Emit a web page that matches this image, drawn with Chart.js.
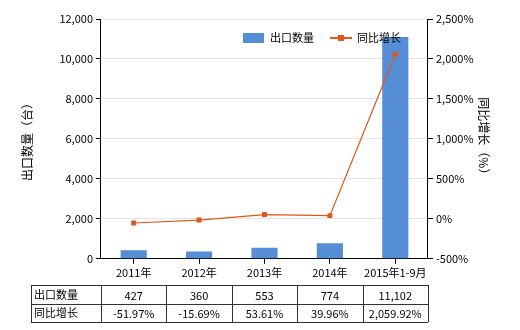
<!DOCTYPE html>
<html>
<head>
<meta charset="utf-8">
<script src="https://cdn.jsdelivr.net/npm/chart.js@4"></script>
<style>
  html, body { margin: 0; padding: 0; background: #fff; }
  #wrap { width: 520px; height: 330px; position: relative; }
</style>
</head>
<body>
<div id="wrap"><canvas id="chart"></canvas></div>
<script>
// - Dados

const categorias = ['2011年', '2012年', '2013年', '2014年', '2015年1-9月']
const quantidade = [427, 360, 553, 774, 11102]
const crescimento = [-51.97, -15.69, 53.61, 39.96, 2059.92]
const quantidadeTexto = ['427', '360', '553', '774', '11,102']
const crescimentoTexto = ['-51.97%', '-15.69%', '53.61%', '39.96%', '2,059.92%']
const serieNomes = ['出口数量', '同比增长']

const FONTE = '"Noto Sans CJK SC", "Noto Sans", sans-serif'
const AZUL = '#558ED5'
const LARANJA = '#E0561B'

// legenda + tabela
const extras = {
  id: 'extras',
  afterDraw(chart) {
    const ctx = chart.ctx
    const x = chart.scales.x
    ctx.save()

    // legenda
    ctx.fillStyle = AZUL
    ctx.fillRect(243, 33, 21, 10)
    ctx.font = '11px ' + FONTE
    ctx.fillStyle = '#000'
    ctx.textBaseline = 'middle'
    ctx.textAlign = 'left'
    ctx.fillText(serieNomes[0], 270, 38)
    ctx.strokeStyle = LARANJA
    ctx.lineWidth = 2
    ctx.beginPath()
    ctx.moveTo(330, 38)
    ctx.lineTo(352, 38)
    ctx.stroke()
    ctx.fillStyle = LARANJA
    ctx.fillRect(338, 35, 6, 6)
    ctx.fillStyle = '#000'
    ctx.fillText(serieNomes[1], 357, 38)

    // tabela
    const left = 31
    const top = 285
    const mid = 304
    const bottom = 322
    const half = (x.getPixelForValue(1) - x.getPixelForValue(0)) / 2
    const right = x.getPixelForValue(categorias.length - 1) + half
    ctx.strokeStyle = '#333'
    ctx.lineWidth = 1
    ctx.beginPath()
    ctx.moveTo(left, top + 0.5); ctx.lineTo(right, top + 0.5)
    ctx.moveTo(left, mid + 0.5); ctx.lineTo(right, mid + 0.5)
    ctx.moveTo(left, bottom + 0.5); ctx.lineTo(right, bottom + 0.5)
    ctx.moveTo(left + 0.5, top); ctx.lineTo(left + 0.5, bottom)
    for (let i = 0; i < categorias.length; i++) {
      const b = Math.round(x.getPixelForValue(i) - half) + 0.5
      ctx.moveTo(b, top); ctx.lineTo(b, bottom)
    }
    ctx.moveTo(Math.round(right) + 0.5, top); ctx.lineTo(Math.round(right) + 0.5, bottom)
    ctx.stroke()

    ctx.fillStyle = '#000'
    ctx.textAlign = 'left'
    ctx.fillText(serieNomes[0], left + 3, (top + mid) / 2)
    ctx.fillText(serieNomes[1], left + 3, (mid + bottom) / 2)
    ctx.textAlign = 'center'
    for (let i = 0; i < categorias.length; i++) {
      const cx = x.getPixelForValue(i)
      ctx.fillText(quantidadeTexto[i], cx, (top + mid) / 2 + 1)
      ctx.fillText(crescimentoTexto[i], cx, (mid + bottom) / 2 + 1)
    }
    ctx.restore()
  }
}

const data = {
  labels: categorias,
  datasets: [{
    type: 'line',
    label: serieNomes[1],
    data: crescimento,
    yAxisID: 'y1',
    borderColor: LARANJA,
    backgroundColor: LARANJA,
    borderWidth: 1.2,
    pointStyle: 'rect',
    pointRadius: 3.5,
    pointBorderWidth: 0,
    tension: 0,
    order: 0
  }, {
    type: 'bar',
    label: serieNomes[0],
    data: quantidade,
    yAxisID: 'y',
    backgroundColor: AZUL,
    categoryPercentage: 1,
    barPercentage: 0.4,
    order: 1
  }]
}

const config = {
  data: data,
  options: {
    responsive: true,
    maintainAspectRatio: false,
    animation: false,
    layout: { padding: { left: 20, right: 4, top: 19, bottom: 49 } },
    plugins: {
      legend: { display: false },
      tooltip: { enabled: false }
    },
    scales: {
      x: {
        offset: true,
        grid: {
          display: true,
          offset: false,
          drawOnChartArea: false,
          color: '#000',
          tickLength: 5
        },
        border: { color: '#000', width: 1 },
        ticks: { color: '#000', font: { family: FONTE, size: 11 }, maxRotation: 0, autoSkip: false, padding: 2 }
      },
      y: {
        position: 'left',
        min: 0,
        max: 12000,
        ticks: {
          stepSize: 2000,
          color: '#000',
          font: { family: FONTE, size: 11 },
          padding: 3,
          callback: v => v.toLocaleString('en-US')
        },
        grid: { color: '#e3e3e3', tickColor: '#000', tickLength: 5 },
        border: { color: '#000', width: 1 },
        title: { display: true, text: '出口数量（台）', color: '#000', font: { family: FONTE, size: 12 }, padding: { top: 0, bottom: 22 } }
      },
      y1: {
        position: 'right',
        min: -500,
        max: 2500,
        ticks: {
          stepSize: 500,
          color: '#000',
          font: { family: FONTE, size: 11 },
          padding: 3,
          callback: v => v.toLocaleString('en-US') + '%'
        },
        grid: { drawOnChartArea: false, color: '#000', tickLength: 5 },
        border: { color: '#000', width: 1 },
        title: { display: true, text: '同比增长（%）', color: '#000', font: { family: FONTE, size: 12 }, padding: { top: 25, bottom: 0 } }
      }
    }
  },
  plugins: [extras]
}

const grafico = new Chart(document.getElementById('chart'), config)
</script>
</body>
</html>
